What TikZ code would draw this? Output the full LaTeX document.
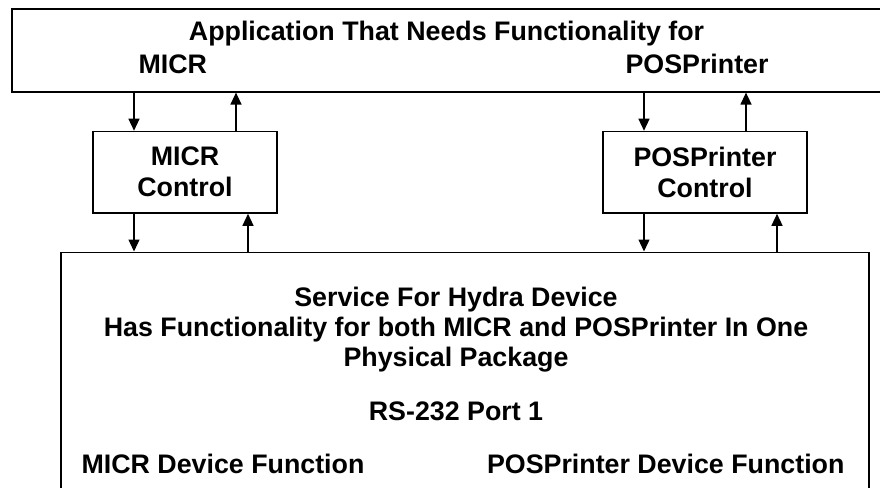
\documentclass[tikz,border=0pt]{standalone}
\usepackage{fontspec}
\setmainfont{Liberation Sans}
\usetikzlibrary{positioning, arrows.meta}

\tikzset{
  box/.style={draw, line width=1.6pt, inner sep=0pt},
  lbl/.style={font=\bfseries\fontsize{26.8}{31}\selectfont},
  arr/.style={line width=1.3pt, -{Triangle[length=12pt,width=11pt]}}
}

\begin{document}
\begin{tikzpicture}[x=1pt, y=-1pt]
\useasboundingbox (0,0) rectangle (880,487);
\clip (0,0) rectangle (880,487);

% boxes
\node[box, anchor=north west, minimum width=890pt, minimum height=83pt] (app) at (11,8) {};
\node[box, lbl, align=center, minimum width=184pt, minimum height=81.5pt] (micr) at (185,172.25) {MICR\\Control};
\node[box, lbl, align=center, minimum width=204pt, minimum height=81.5pt] (pos) at (705,172.25) {POSPrinter\\Control};
\node[box, anchor=north west, minimum width=808pt, minimum height=260pt] (svc) at (60,251.5) {};

% application text
\node[lbl, anchor=base] (tapp) at (446.5,41) {Application That Needs Functionality for};
\node[lbl, anchor=base west] (tmicr) at (135,74) {MICR};
\node[lbl, anchor=base west] (tpos) at (622,74) {POSPrinter};

% service text
\node[lbl, anchor=base] (s1) at (456,306.5) {Service For Hydra Device};
\node[lbl, anchor=base] (s2) at (456,336.5) {Has Functionality for both MICR and POSPrinter In One};
\node[lbl, anchor=base] (s3) at (456,366.5) {Physical Package};
\node[lbl, anchor=base] (s4) at (456,420) {RS-232 Port 1};
\node[lbl, anchor=base west] (s5) at (78,473) {MICR Device Function};
\node[lbl, anchor=base east] (s6) at (848,473) {POSPrinter Device Function};

% arrows
\draw[arr] (134,0 |- app.south) -- (134,0 |- micr.north);
\draw[arr] (236,0 |- micr.north) -- (236,0 |- app.south);
\draw[arr] (134,0 |- micr.south) -- (134,0 |- svc.north);
\draw[arr] (248,0 |- svc.north) -- (248,0 |- micr.south);
\draw[arr] (644,0 |- app.south) -- (644,0 |- pos.north);
\draw[arr] (746,0 |- pos.north) -- (746,0 |- app.south);
\draw[arr] (644,0 |- pos.south) -- (644,0 |- svc.north);
\draw[arr] (777,0 |- svc.north) -- (777,0 |- pos.south);
\end{tikzpicture}
\end{document}
